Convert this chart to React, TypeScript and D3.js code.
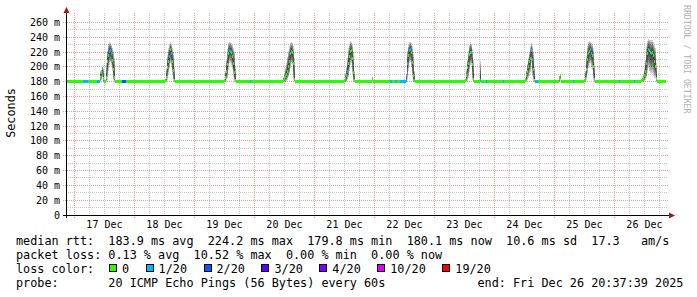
import React from "react";
import * as d3 from "d3";

// ---- time window ----
const START = new Date(2025, 11, 16, 20, 37, 39);
const END = new Date(2025, 11, 26, 20, 37, 39);

// ---- y axis ----
const yTickValues = [0, 20, 40, 60, 80, 100, 120, 140, 160, 180, 200, 220, 240, 260];
const yTickLabels = ["0", "20 m", "40 m", "60 m", "80 m", "100 m", "120 m", "140 m", "160 m", "180 m", "200 m", "220 m", "240 m", "260 m"];
const yMinorValues = [10, 30, 50, 70, 90, 110, 130, 150, 170, 190, 210, 230, 250];

// ---- loss legend ----
const lossLabels = ["0", "1/20", "2/20", "3/20", "4/20", "10/20", "19/20"];
const lossColors = ["#26ff00", "#00b8ff", "#0059ff", "#5e00ff", "#7e00ff", "#dd00ff", "#ff0000"];

// ---- samples: [hours since start, median ms, smoke low ms, smoke high ms, loss index] ----
type Sample = [number, number, number, number, number];
const rtt: Sample[] = [
  [0, 180, 180, 180, 0],
  [6.8, 180, 180, 180, 1],
  [8.8, 180.5, 180, 181, 0],
  [12.4, 180, 180, 180, 1],
  [13.6, 186, 180, 194, 0],
  [14.0, 193, 182, 196, 0],
  [14.4, 198, 186, 200, 1],
  [14.8, 184, 180, 199, 0],
  [15.2, 180, 180, 180, 0],
  [16.0, 186, 180, 205, 0],
  [16.4, 207, 182, 222, 0],
  [16.8, 216, 195, 231, 0],
  [17.2, 221, 203, 233, 1],
  [17.6, 222, 206, 232, 1],
  [18.0, 218, 203, 230, 1],
  [18.4, 209, 195, 226, 0],
  [18.8, 196, 182, 221, 0],
  [19.2, 186, 180, 212, 0],
  [19.6, 180, 180, 180, 0],
  [22.4, 180, 180, 180, 2],
  [24.0, 180, 180, 180, 0],
  [39.6, 181, 180, 184, 0],
  [40.0, 186, 180, 198, 0],
  [40.4, 199, 182, 216, 0],
  [40.8, 208, 190, 226, 0],
  [41.2, 214, 198, 231, 1],
  [41.6, 223, 205, 233, 0],
  [42.0, 218, 201, 231, 1],
  [42.4, 208, 190, 226, 0],
  [42.8, 195, 181, 220, 0],
  [43.2, 182, 180, 200, 0],
  [43.6, 180, 180, 180, 0],
  [63.2, 181, 180, 183, 0],
  [63.6, 186, 180, 195, 0],
  [64.0, 194, 181, 210, 0],
  [64.4, 203, 185, 224, 0],
  [64.8, 218, 196, 232, 0],
  [65.2, 222, 205, 234, 1],
  [65.6, 221, 205, 233, 1],
  [66.0, 220, 203, 232, 0],
  [66.4, 214, 197, 230, 0],
  [66.8, 204, 187, 226, 0],
  [67.2, 192, 180, 222, 0],
  [67.6, 181, 180, 200, 0],
  [68.0, 180, 180, 180, 0],
  [73.6, 180, 180, 180, 1],
  [74.0, 180, 180, 180, 0],
  [86.8, 182, 180, 186, 0],
  [87.2, 184, 180, 190, 0],
  [87.6, 187, 180, 198, 0],
  [88.0, 190, 181, 205, 0],
  [88.4, 194, 183, 214, 0],
  [88.8, 200, 186, 222, 0],
  [89.2, 208, 190, 228, 0],
  [89.6, 218, 198, 232, 0],
  [90.0, 221, 204, 234, 1],
  [90.4, 219, 202, 232, 0],
  [90.8, 205, 182, 228, 0],
  [91.2, 183, 180, 212, 0],
  [91.6, 180, 180, 180, 0],
  [111.2, 181, 180, 183, 0],
  [111.6, 184, 180, 192, 0],
  [112.0, 188, 180, 200, 0],
  [112.4, 194, 182, 212, 1],
  [112.8, 205, 186, 225, 0],
  [113.2, 214, 195, 231, 0],
  [113.6, 221, 203, 235, 0],
  [114.0, 222, 205, 234, 0],
  [114.4, 212, 190, 230, 0],
  [114.8, 192, 180, 220, 0],
  [115.2, 181, 180, 195, 0],
  [115.6, 180, 180, 180, 0],
  [122.4, 183, 180, 187, 0],
  [122.8, 180, 180, 180, 0],
  [129.6, 180, 180, 180, 1],
  [130.4, 180, 180, 180, 0],
  [131.6, 180, 180, 180, 1],
  [132.4, 180, 180, 180, 0],
  [133.6, 180, 180, 180, 1],
  [136.0, 182, 180, 190, 1],
  [136.4, 205, 182, 222, 1],
  [136.8, 215, 195, 230, 0],
  [137.2, 222, 205, 233, 1],
  [137.6, 223, 206, 234, 1],
  [138.0, 219, 200, 232, 0],
  [138.4, 206, 186, 228, 0],
  [138.8, 188, 180, 218, 0],
  [139.2, 181, 180, 195, 0],
  [139.6, 180, 180, 180, 0],
  [159.6, 181, 180, 184, 0],
  [160.0, 188, 180, 196, 0],
  [160.4, 199, 181, 210, 0],
  [160.8, 205, 185, 222, 0],
  [161.2, 217, 193, 230, 0],
  [161.6, 220, 202, 233, 0],
  [162.0, 219, 203, 231, 1],
  [162.4, 203, 182, 224, 0],
  [162.8, 183, 180, 210, 0],
  [163.2, 180, 180, 180, 0],
  [165.6, 181, 180, 208, 1],
  [166.0, 180, 180, 180, 0],
  [168.0, 180, 180, 180, 1],
  [168.4, 180, 180, 180, 0],
  [174.8, 180, 180, 180, 1],
  [175.2, 180, 180, 180, 0],
  [183.6, 182, 180, 185, 0],
  [184.0, 188, 180, 195, 0],
  [184.4, 194, 182, 204, 0],
  [184.8, 201, 185, 212, 0],
  [185.2, 207, 188, 220, 0],
  [185.6, 212, 193, 228, 0],
  [186.0, 222, 205, 232, 1],
  [186.4, 210, 188, 228, 1],
  [186.8, 196, 181, 220, 0],
  [187.2, 182, 180, 200, 0],
  [187.6, 180, 180, 180, 1],
  [188.8, 180, 180, 180, 0],
  [197.2, 184, 180, 188, 0],
  [197.6, 188, 183, 190, 0],
  [198.0, 180, 180, 180, 0],
  [202.8, 180, 180, 180, 1],
  [203.2, 180, 180, 180, 0],
  [207.2, 181, 180, 184, 0],
  [207.6, 185, 180, 195, 0],
  [208.0, 197, 182, 215, 0],
  [208.4, 210, 190, 228, 0],
  [208.8, 218, 198, 233, 0],
  [209.2, 221, 202, 235, 0],
  [209.6, 223, 205, 234, 1],
  [210.0, 218, 200, 232, 1],
  [210.4, 216, 196, 231, 0],
  [210.8, 200, 182, 225, 0],
  [211.2, 183, 180, 205, 0],
  [211.6, 180, 180, 180, 0],
  [221.2, 180, 180, 180, 1],
  [221.6, 180, 180, 180, 0],
  [227.2, 180, 180, 180, 1],
  [227.6, 180, 180, 180, 0],
  [230.0, 181, 180, 183, 0],
  [230.4, 182, 180, 186, 0],
  [230.8, 184, 180, 190, 0],
  [231.2, 188, 181, 198, 0],
  [231.6, 194, 183, 210, 0],
  [232.0, 205, 185, 228, 0],
  [232.4, 218, 192, 235, 0],
  [232.8, 224, 198, 238, 1],
  [233.2, 222, 195, 237, 0],
  [233.6, 219, 192, 236, 0],
  [234.0, 218, 190, 236, 1],
  [234.4, 220, 192, 237, 0],
  [234.8, 215, 188, 233, 0],
  [235.2, 207, 185, 230, 0],
  [235.6, 200, 185, 225, 0],
  [236.0, 184, 180, 205, 0],
  [236.4, 180, 180, 180, 0],
  [240, 180, 180, 180, 0],
];

// ---- legend text ----
const legendRtt = "median rtt:  183.9 ms avg  224.2 ms max  179.8 ms min  180.1 ms now  10.6 ms sd  17.3   am/s";
const legendLoss = "packet loss: 0.13 % avg  10.52 % max  0.00 % min  0.00 % now";
const legendLossTitle = "loss color:";
const legendProbe = "probe:       20 ICMP Echo Pings (56 Bytes) every 60s";
const legendEnd = "end: Fri Dec 26 20:37:39 2025";
const yTitle = "Seconds";
const watermark = "RRDTOOL / TOBI OETIKER";

const MONO = "'DejaVu Sans Mono', 'Liberation Mono', monospace";

export default function App() {
  const left = 66, right = 666, gridRight = 668, zeroY = 215, top = 13;
  const x = d3.scaleTime().domain([START, END]).range([left, right]);
  const y = d3.scaleLinear().domain([0, 260]).range([zeroY, 22.5]);
  const at = (h: number) => new Date(START.getTime() + h * 3600e3);
  const snap = (v: number) => Math.floor(v) + 0.5;

  const midnights = d3.timeDay.range(d3.timeDay.ceil(START), END);
  const sixHours = d3.timeHour.every(6)!.range(START, END).filter((d) => d.getHours() !== 0);
  const noons = midnights.map((d) => d3.timeHour.offset(d, 12)).filter((d) => d < END);
  const fmt = d3.timeFormat("%d %b");

  const N = 6;
  const smoke = d3.range(1, N + 1).map((k) =>
    d3
      .area<Sample>()
      .x((d) => x(at(d[0])))
      .y0((d) => y(d[1] - ((d[1] - d[2]) * k) / N))
      .y1((d) => y(d[1] + ((d[3] - d[1]) * k) / N))
      .curve(d3.curveStepAfter)(rtt) as string
  );

  const charW = 11.8 * 0.60205;
  const boxXs: number[] = [];
  let bx = 109;
  lossLabels.forEach((l) => {
    boxXs.push(bx);
    bx += 29.5 + l.length * charW;
  });

  const majorGrid = "#e99a9a";
  const minorGrid = "#c8c8c8";
  const arrow = "#a01818";

  return (
    <svg
      width={697}
      height={297}
      style={{ position: "absolute", left: 0, top: 0, display: "block", background: "#fff" }}
    >
      <rect x={0} y={0} width={697} height={297} fill="#fff" />
      {/* minor grid */}
      {yMinorValues.map((v) => (
        <line key={"hm" + v} x1={left} x2={gridRight} y1={snap(y(v))} y2={snap(y(v))} stroke={minorGrid} strokeDasharray="1,1" />
      ))}
      {sixHours.map((d) => (
        <line key={"vm" + d.getTime()} x1={snap(x(d))} x2={snap(x(d))} y1={top} y2={zeroY} stroke={minorGrid} strokeDasharray="1,1" />
      ))}
      {/* major grid */}
      {yTickValues.filter((v) => v > 0).map((v) => (
        <line key={"hM" + v} x1={63} x2={gridRight} y1={snap(y(v))} y2={snap(y(v))} stroke={majorGrid} strokeDasharray="1,1" />
      ))}
      {midnights.map((d) => (
        <line key={"vM" + d.getTime()} x1={snap(x(d))} x2={snap(x(d))} y1={top} y2={zeroY + 3} stroke={majorGrid} strokeDasharray="1,1" />
      ))}

      {/* smoke */}
      <g shapeRendering="crispEdges">
        {smoke.map((p, i) => (
          <path key={"s" + i} d={p} fill="#000" fillOpacity={0.2} stroke="none" />
        ))}
      </g>
      {/* median colored by loss */}
      <g shapeRendering="crispEdges">
        {rtt.slice(0, -1).map((d, i) => {
          const x0 = x(at(d[0]));
          const x1 = x(at(rtt[i + 1][0]));
          return (
            <rect key={"m" + i} x={x0} y={y(d[1]) - 1.5} width={x1 - x0} height={3} fill={lossColors[d[4]]} />
          );
        })}
      </g>

      {/* axes */}
      <line x1={63} x2={670} y1={zeroY + 0.5} y2={zeroY + 0.5} stroke="#000" />
      <line x1={left + 0.5} x2={left + 0.5} y1={zeroY + 3} y2={12} stroke="#000" />
      <polygon points={`${left + 0.5},7 ${left - 2.5},13 ${left + 3.5},13`} fill={arrow} />
      <polygon points={`669,212.5 675,215.5 669,218.5`} fill={arrow} />

      {/* y labels */}
      {yTickValues.map((v, i) => (
        <text key={"yl" + v} x={60} y={y(v) + 3.5} textAnchor="end" fontFamily={MONO} fontSize={10} fill="#000">
          {yTickLabels[i]}
        </text>
      ))}
      {/* x labels */}
      {noons.map((d) => (
        <text key={"xl" + d.getTime()} x={x(d)} y={227.5} textAnchor="middle" fontFamily={MONO} fontSize={10} fill="#000">
          {fmt(d)}
        </text>
      ))}

      {/* y title */}
      <text transform="translate(15,113) rotate(-90)" textAnchor="middle" fontFamily={MONO} fontSize={11.8} fill="#000">
        {yTitle}
      </text>
      {/* watermark */}
      <text transform="translate(683.5,5) rotate(90)" fontFamily={MONO} fontSize={8.2} fill="#b0b0b0">
        {watermark}
      </text>

      {/* legend */}
      <g fontFamily={MONO} fontSize={11.8} fill="#000" style={{ whiteSpace: "pre" }}>
        <text x={16} y={245} xmlSpace="preserve">{legendRtt}</text>
        <text x={16} y={259} xmlSpace="preserve">{legendLoss}</text>
        <text x={16} y={273} xmlSpace="preserve">{legendLossTitle}</text>
        {lossLabels.map((l, i) => (
          <g key={"lg" + l}>
            <rect x={boxXs[i] + 0.5} y={264.5} width={7} height={7} fill={lossColors[i]} stroke="#000" strokeWidth={1} shapeRendering="crispEdges" />
            <text x={boxXs[i] + 13} y={273}>{l}</text>
          </g>
        ))}
        <text x={16} y={287} xmlSpace="preserve">{legendProbe}</text>
        <text x={477.5} y={287}>{legendEnd}</text>
      </g>
    </svg>
  );
}
